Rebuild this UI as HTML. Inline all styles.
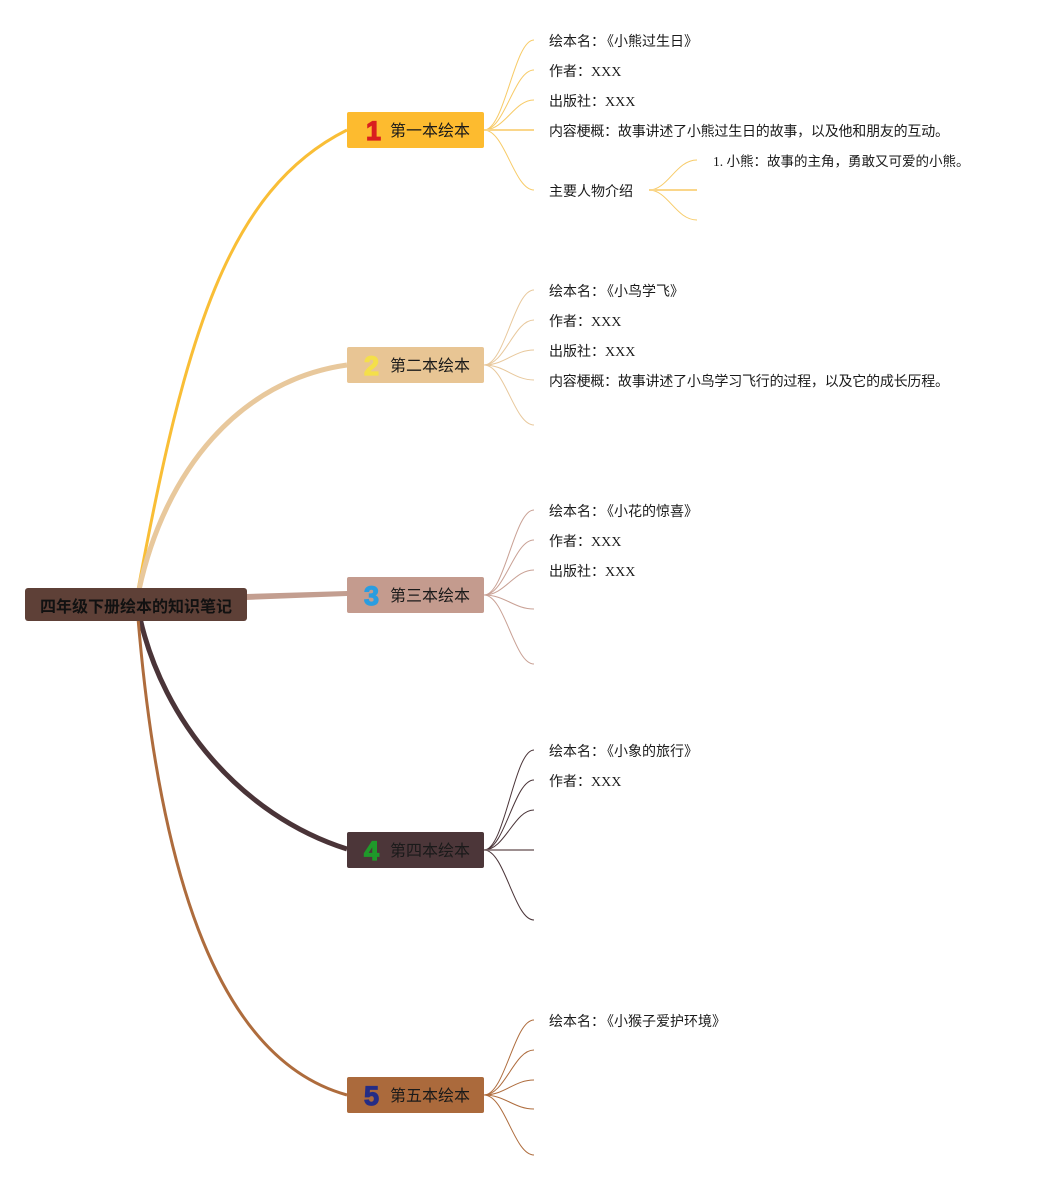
<!DOCTYPE html>
<html>
<head>
<meta charset="utf-8">
<style>
html,body{margin:0;padding:0;background:#fff;}
svg{display:block;}
.leaf{font-family:"Liberation Serif","Noto Sans CJK SC",sans-serif;font-size:14px;fill:#1a1a1a;}
.box{font-family:"Liberation Sans","Noto Sans CJK SC",sans-serif;font-size:16px;fill:#1a1a1a;}
.num{font-family:"Liberation Sans","DejaVu Sans",sans-serif;font-size:27px;font-weight:bold;stroke-width:1.2;}
</style>
</head>
<body>
<svg width="1039" height="1180" viewBox="0 0 1039 1180" xmlns="http://www.w3.org/2000/svg">
  <!-- main curves -->
  <path d="M138,590 C185,338 227,190 347,130" fill="none" stroke="#f9be36" stroke-width="3"/>
  <path d="M139,590 C165,470 240,380 347,365" fill="none" stroke="#e8c89c" stroke-width="5"/>
  <polygon points="246,594 347,591 347,596 246,600" fill="#c39e90"/>
  <path d="M140,618 C163,720 240,815 347,849" fill="none" stroke="#4a3438" stroke-width="5"/>
  <path d="M138,618 C160,880 220,1060 347,1095" fill="none" stroke="#ae6c3d" stroke-width="3"/>

  <!-- root -->
  <rect x="25" y="588" width="222" height="33" rx="3" fill="#5e4037"/>
  <text x="136" y="612" text-anchor="middle" style="font-family:'Liberation Sans','Noto Sans CJK SC',sans-serif;font-size:16px;font-weight:bold;fill:#111;">四年级下册绘本的知识笔记</text>

  <!-- branch 1 -->
  <g fill="none" stroke="#f7cb68" stroke-width="1">
    <path d="M484,130 C505,130 514,40 534,40"/>
    <path d="M484,130 C505,130 514,70 534,70"/>
    <path d="M484,130 C505,130 514,100 534,100"/>
    <path d="M484,130 C505,130 514,190 534,190"/>
    <path d="M649,190 C668,190 676,160 697,160"/>
    <path d="M649,190 C668,190 676,220 697,220"/>
  </g>
  <line x1="484" y1="130" x2="534" y2="130" stroke="#fad68a" stroke-width="2"/>
  <line x1="649" y1="190" x2="697" y2="190" stroke="#fad68a" stroke-width="2"/>
  <rect x="347" y="112" width="137" height="36" rx="2" fill="#fdbb2f"/>
  <text x="366" y="140" class="num" fill="#d91f1f" stroke="#d91f1f">1</text>
  <text x="390" y="136" class="box">第一本绘本</text>
  <text x="549" y="46" class="leaf">绘本名：</text><text x="600" y="46" class="leaf">《小熊过生日》</text>
  <text x="549" y="76" class="leaf">作者：XXX</text>
  <text x="549" y="106" class="leaf">出版社：XXX</text>
  <text x="549" y="136" class="leaf" textLength="400" lengthAdjust="spacing">内容梗概：故事讲述了小熊过生日的故事，以及他和朋友的互动。</text>
  <text x="549" y="196" class="leaf">主要人物介绍</text>
  <text x="713" y="166" class="leaf" style="font-size:13.5px">1. 小熊：故事的主角，勇敢又可爱的小熊。</text>

  <!-- branch 2 -->
  <g fill="none" stroke="#e8c89c" stroke-width="1">
    <path d="M484,365 C505,365 514,290 534,290"/>
    <path d="M484,365 C505,365 514,320 534,320"/>
    <path d="M484,365 C505,365 514,350 534,350"/>
    <path d="M484,365 C505,365 514,380 534,380"/>
    <path d="M484,365 C505,365 514,425 534,425"/>
  </g>
  <rect x="347" y="347" width="137" height="36" rx="2" fill="#e8c594"/>
  <text x="364" y="375" class="num" fill="#f4df4a" stroke="#f4df4a">2</text>
  <text x="390" y="371" class="box">第二本绘本</text>
  <text x="549" y="296" class="leaf">绘本名：</text><text x="600" y="296" class="leaf">《小鸟学飞》</text>
  <text x="549" y="326" class="leaf">作者：XXX</text>
  <text x="549" y="356" class="leaf">出版社：XXX</text>
  <text x="549" y="386" class="leaf" textLength="400" lengthAdjust="spacing">内容梗概：故事讲述了小鸟学习飞行的过程，以及它的成长历程。</text>

  <!-- branch 3 -->
  <g fill="none" stroke="#c9a195" stroke-width="1">
    <path d="M484,595 C505,595 514,510 534,510"/>
    <path d="M484,595 C505,595 514,540 534,540"/>
    <path d="M484,595 C505,595 514,570 534,570"/>
    <path d="M484,595 C505,595 514,609 534,609"/>
    <path d="M484,595 C505,595 514,664 534,664"/>
  </g>
  <rect x="347" y="577" width="137" height="36" rx="2" fill="#c49b8e"/>
  <text x="364" y="605" class="num" fill="#2a9de0" stroke="#2a9de0">3</text>
  <text x="390" y="601" class="box">第三本绘本</text>
  <text x="549" y="516" class="leaf">绘本名：</text><text x="600" y="516" class="leaf">《小花的惊喜》</text>
  <text x="549" y="546" class="leaf">作者：XXX</text>
  <text x="549" y="576" class="leaf">出版社：XXX</text>

  <!-- branch 4 -->
  <g fill="none" stroke="#4a3438" stroke-width="1">
    <path d="M484,850 C505,850 514,750 534,750"/>
    <path d="M484,850 C505,850 514,780 534,780"/>
    <path d="M484,850 C505,850 514,810 534,810"/>
    <path d="M484,850 C505,850 514,920 534,920"/>
  </g>
  <line x1="484" y1="850" x2="534" y2="850" stroke="#7d6a6c" stroke-width="1.5"/>
  <rect x="347" y="832" width="137" height="36" rx="2" fill="#4c3639"/>
  <text x="364" y="860" class="num" fill="#1f9a2a" stroke="#1f9a2a">4</text>
  <text x="390" y="856" class="box">第四本绘本</text>
  <text x="549" y="756" class="leaf">绘本名：</text><text x="600" y="756" class="leaf">《小象的旅行》</text>
  <text x="549" y="786" class="leaf">作者：XXX</text>

  <!-- branch 5 -->
  <g fill="none" stroke="#ae6c3d" stroke-width="1">
    <path d="M484,1095 C505,1095 514,1020 534,1020"/>
    <path d="M484,1095 C505,1095 514,1050 534,1050"/>
    <path d="M484,1095 C505,1095 514,1080 534,1080"/>
    <path d="M484,1095 C505,1095 514,1109 534,1109"/>
    <path d="M484,1095 C505,1095 514,1155 534,1155"/>
  </g>
  <rect x="347" y="1077" width="137" height="36" rx="2" fill="#ab6a3c"/>
  <text x="364" y="1105" class="num" fill="#252d85" stroke="#252d85">5</text>
  <text x="390" y="1101" class="box">第五本绘本</text>
  <text x="549" y="1026" class="leaf">绘本名：</text><text x="600" y="1026" class="leaf">《小猴子爱护环境》</text>
</svg>
</body>
</html>
